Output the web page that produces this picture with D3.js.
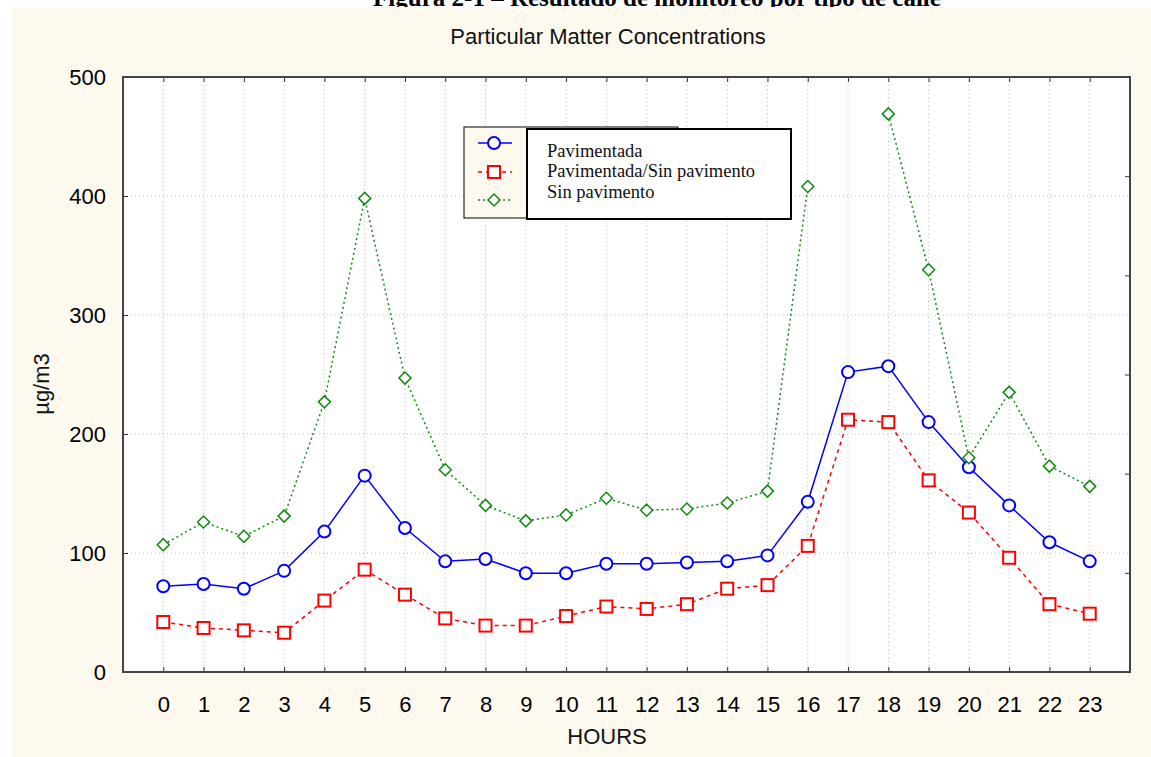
<!DOCTYPE html>
<html>
<head>
<meta charset="utf-8">
<script src="https://cdn.jsdelivr.net/npm/d3@7"></script>
<style>
  html, body { margin: 0; padding: 0; background: #fff; }
  svg { display: block; }
</style>
</head>
<body>
<svg id="chart" width="1151" height="757"></svg>
<script>
'use strict';

// ── Data ─────────────────────────────────────────────────────
const HOURS = [0, 1, 2, 3, 4, 5, 6, 7, 8, 9, 10, 11, 12, 13, 14, 15, 16, 17, 18, 19, 20, 21, 22, 23];
const PAVIMENTADA = [72, 74, 70, 85, 118, 165, 121, 93, 95, 83, 83, 91, 91, 92, 93, 98, 143, 252, 257, 210, 172, 140, 109, 93];
const MIXTA       = [42, 37, 35, 33, 60, 86, 65, 45, 39, 39, 47, 55, 53, 57, 70, 73, 106, 212, 210, 161, 134, 96, 57, 49];
const SIN_PAV     = [107, 126, 114, 131, 227, 398, 247, 170, 140, 127, 132, 146, 136, 137, 142, 152, 408, null, 469, 338, 180, 235, 173, 156];
const Y_TICKS     = [0, 100, 200, 300, 400, 500];
const SERIES_NAMES = ['Pavimentada', 'Pavimentada/Sin pavimento', 'Sin pavimento'];

const PLOT = { left: 123, right: 1130, top: 77, bottom: 672 };
const CREAM = '#fdf9ef';
const SANS  = 'Arial, "Liberation Sans", sans-serif';
const SERIF = '"Times New Roman", "Liberation Serif", serif';

const series = [
  { name: SERIES_NAMES[0], values: PAVIMENTADA, color: '#0000ff', dash: null,  marker: 'circle'  },
  { name: SERIES_NAMES[1], values: MIXTA,       color: '#ff0000', dash: '4,4', marker: 'square'  },
  { name: SERIES_NAMES[2], values: SIN_PAV,     color: '#108a10', dash: '2,3', marker: 'diamond' },
];

const svg = d3.select('#chart');

// ── Backgrounds ──────────────────────────────────────────────
// caption of the page above the chart; only its lower part shows in the figure
svg.append('text')
  .attr('x', 657).attr('y', 6)
  .attr('text-anchor', 'middle')
  .attr('font-family', SERIF).attr('font-weight', 'bold').attr('font-size', 25)
  .attr('fill', '#000')
  .text('Figura 2-1 – Resultado de monitoreo por tipo de calle');

svg.append('rect').attr('x', 12).attr('y', 7).attr('width', 1151).attr('height', 757).attr('fill', CREAM);

svg.append('rect')
  .attr('x', PLOT.left).attr('y', PLOT.top)
  .attr('width', PLOT.right - PLOT.left).attr('height', PLOT.bottom - PLOT.top)
  .attr('fill', '#fff');

// ── Scales ───────────────────────────────────────────────────
const x = d3.scaleLinear().domain([-1, 24]).range([PLOT.left, PLOT.right]);
const y = d3.scaleLinear().domain([0, 500]).range([PLOT.bottom, PLOT.top]);
const yRight = d3.scaleLinear().domain([0, 6]).range([PLOT.bottom, PLOT.top]);

// ── Grid ─────────────────────────────────────────────────────
const grid = svg.append('g').attr('stroke', '#bdbdbd').attr('stroke-width', 1).attr('stroke-dasharray', '1,3');
grid.selectAll('line.v').data(HOURS).join('line').attr('class', 'v')
  .attr('x1', d => x(d)).attr('x2', d => x(d))
  .attr('y1', PLOT.top).attr('y2', PLOT.bottom);
grid.selectAll('line.h').data(Y_TICKS.filter(d => d > 0 && d < 500)).join('line').attr('class', 'h')
  .attr('x1', PLOT.left).attr('x2', PLOT.right)
  .attr('y1', d => y(d)).attr('y2', d => y(d));

// ── Axes (inward ticks on all four sides) ────────────────────
const TICK = 5;
const axisStyle = g => {
  g.select('.domain').remove();
  g.selectAll('.tick line').attr('stroke', '#333').attr('stroke-width', 1);
  g.selectAll('.tick text').attr('font-family', SANS).attr('font-size', 22).attr('fill', '#000');
};

svg.append('g').attr('transform', `translate(0,${PLOT.bottom})`)
  .call(d3.axisBottom(x).tickValues(HOURS).tickFormat(d3.format('d')).tickSizeInner(-TICK).tickSizeOuter(0).tickPadding(24))
  .call(axisStyle);
svg.append('g').attr('transform', `translate(0,${PLOT.top})`)
  .call(d3.axisTop(x).tickValues(HOURS).tickFormat('').tickSizeInner(-TICK).tickSizeOuter(0))
  .call(axisStyle);
svg.append('g').attr('transform', `translate(${PLOT.left},0)`)
  .call(d3.axisLeft(y).tickValues(Y_TICKS).tickFormat(d3.format('d')).tickSizeInner(-TICK).tickSizeOuter(0).tickPadding(17))
  .call(axisStyle);
svg.append('g').attr('transform', `translate(${PLOT.right},0)`)
  .call(d3.axisRight(yRight).ticks(6).tickFormat('').tickSizeInner(-TICK).tickSizeOuter(0))
  .call(axisStyle);

svg.append('rect')
  .attr('x', PLOT.left).attr('y', PLOT.top)
  .attr('width', PLOT.right - PLOT.left).attr('height', PLOT.bottom - PLOT.top)
  .attr('fill', 'none').attr('stroke', '#444').attr('stroke-width', 2);

// ── Titles ───────────────────────────────────────────────────
svg.append('text')
  .attr('x', 608).attr('y', 44).attr('text-anchor', 'middle')
  .attr('font-family', SANS).attr('font-size', 22).attr('fill', '#111')
  .text('Particular Matter Concentrations');
svg.append('text')
  .attr('x', 607).attr('y', 744).attr('text-anchor', 'middle')
  .attr('font-family', SANS).attr('font-size', 22).attr('fill', '#111')
  .text('HOURS');
svg.append('text')
  .attr('transform', 'translate(49,384) rotate(-90)').attr('text-anchor', 'middle')
  .attr('font-family', SANS).attr('font-size', 22).attr('fill', '#111')
  .text('µg/m3');

// ── Markers ──────────────────────────────────────────────────
function drawMarker(sel, kind, color) {
  if (kind === 'circle') {
    sel.append('circle').attr('r', 6).attr('fill', '#fff').attr('stroke', color).attr('stroke-width', 2);
  } else if (kind === 'square') {
    sel.append('rect').attr('x', -6).attr('y', -6).attr('width', 12).attr('height', 12)
      .attr('fill', '#fff').attr('stroke', color).attr('stroke-width', 2);
  } else {
    sel.append('polygon').attr('points', '0,-6 6,0 0,6 -6,0')
      .attr('fill', '#fff').attr('stroke', color).attr('stroke-width', 1.5);
  }
}

// ── Series ───────────────────────────────────────────────────
const line = d3.line()
  .defined(d => d.v != null)
  .x(d => x(d.h))
  .y(d => y(d.v));

for (const s of series) {
  const pts = HOURS.map((h, i) => ({ h, v: s.values[i] }));
  svg.append('path')
    .datum(pts)
    .attr('fill', 'none')
    .attr('stroke', s.color)
    .attr('stroke-width', 1.5)
    .attr('stroke-dasharray', s.dash)
    .attr('d', line);
  svg.append('g').selectAll('g').data(pts.filter(d => d.v != null)).join('g')
    .attr('transform', d => `translate(${x(d.h)},${y(d.v)})`)
    .each(function () { drawMarker(d3.select(this), s.marker, s.color); });
}

// ── Legend ───────────────────────────────────────────────────
const legend = svg.append('g');
legend.append('rect').attr('x', 464).attr('y', 127).attr('width', 214).attr('height', 91)
  .attr('fill', CREAM).attr('stroke', '#000').attr('stroke-width', 1);
legend.append('rect').attr('x', 527).attr('y', 129).attr('width', 264).attr('height', 90)
  .attr('fill', '#fff').attr('stroke', '#000').attr('stroke-width', 2);

const rowY = [143, 172, 200];
const textY = [157, 177, 198];
series.forEach((s, i) => {
  legend.append('line')
    .attr('x1', 478).attr('x2', 512).attr('y1', rowY[i]).attr('y2', rowY[i])
    .attr('stroke', s.color).attr('stroke-width', 1.5).attr('stroke-dasharray', s.dash);
  drawMarker(legend.append('g').attr('transform', `translate(494,${rowY[i]})`), s.marker, s.color);
  legend.append('text')
    .attr('x', 547).attr('y', textY[i])
    .attr('font-family', SERIF).attr('font-size', 18.5).attr('fill', '#111')
    .text(s.name);
});
</script>
</body>
</html>
